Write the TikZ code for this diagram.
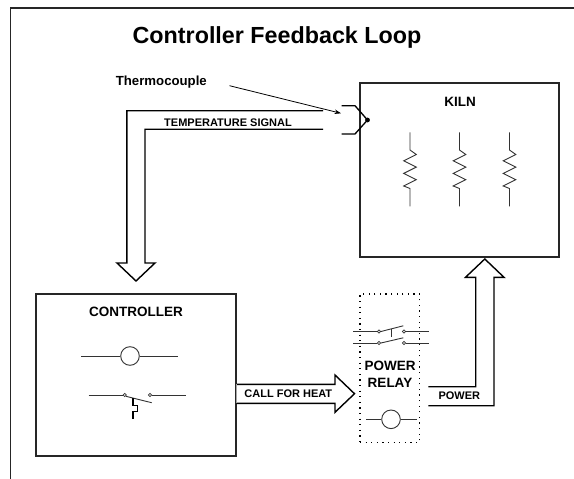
\documentclass[tikz,border=0pt]{standalone}
\usepackage{fontspec}
\setmainfont{Liberation Sans}
\usetikzlibrary{arrows.meta}
\tikzset{
  frameline/.style={line width=1.3bp, draw=black!85},
  boxstyle/.style={draw=black!85, line width=1.2bp, inner sep=0pt, fill=white},
  relaybox/.style={draw=black, line width=1.2bp, dash pattern=on 1.2bp off 4.4bp, inner sep=0pt},
  hollowarrow/.style={draw=black, line width=1.4bp, line join=miter},
  thinline/.style={draw=black!80, line width=0.9bp},
  heavyline/.style={draw=black, line width=1.6bp},
  lbl/.style={font=\bfseries\fontsize{11bp}{13bp}\selectfont, inner sep=0pt},
  blbl/.style={font=\bfseries\fontsize{13.5bp}{17.3bp}\selectfont, inner sep=0pt, align=center},
  contact/.style={circle, draw=black!80, line width=0.7bp, fill=white, inner sep=0pt, minimum size=3.2bp},
  coil/.style={circle, draw=black!80, line width=0.9bp, fill=white, inner sep=0pt, minimum size=18.6bp},
}
\begin{document}
\begin{tikzpicture}[x=1bp, y=-1bp]
\useasboundingbox (0,0) rectangle (574,479);
% outer frame (cut at right and bottom)
\draw[frameline] (10.5,479) -- (10.5,8) -- (574,8);
% title
\node[font=\bfseries\fontsize{23.3bp}{27bp}\selectfont, inner sep=0pt] (title) at (277,37) {Controller Feedback Loop};

% kiln
\node[boxstyle, minimum width=199bp, minimum height=174bp] (kiln) at (459.5,170) {};
\node[blbl] (kilnlbl) at (460,101.5) {KILN};
\foreach \xx/\nm in {410/ra,459.5/rb,509.5/rc}{
  \draw[thinline] (\xx,132.5) -- (\xx,150) -- (\xx+6.3,154.5) -- (\xx-6.3,160.8) -- (\xx+6.3,167.1) -- (\xx-6.3,173.4) -- (\xx+6.3,179.7) -- (\xx-6.3,186) -- (\xx,188.5) -- (\xx,206.5);
}

% thermocouple symbol
\coordinate (tcdot) at (367.5,120);
\draw[line width=1.3bp] (341.5,105.7) -- (355,105.7) -- (tcdot) -- (355,134) -- (341.5,134);
\fill (tcdot) circle (2.4bp);

% thermocouple label and leader
\node[font=\bfseries\fontsize{13.2bp}{15bp}\selectfont, inner sep=0pt, anchor=east] (tclbl) at (207,82) {Thermocouple};
\coordinate (tctip) at (341,113.3);
\draw[line width=0.8bp, -{Stealth[length=6.5bp,width=4.5bp]}] (229.5,85.7) -- (tctip);

% temperature signal hollow arrow
\draw[hollowarrow] (323,110.8) -- (126.8,110.8) -- (126.8,263) -- (117,263) -- (136,281) -- (155,263) -- (145,263) -- (145,129.3) -- (323,129.3);
\node[lbl] (templbl) at (228,122.5) {TEMPERATURE SIGNAL};

% controller
\node[boxstyle, minimum width=200bp, minimum height=162bp] (ctrl) at (136,375) {};
\node[blbl] (ctrllbl) at (136,312.3) {CONTROLLER};
\node[coil] (ccoil) at (130,356) {};
\draw[thinline] (81.3,356) -- (ccoil.west);
\draw[thinline] (ccoil.east) -- (178.3,356);
% controller switch
\node[contact] (cc1) at (124.8,395) {};
\node[contact] (cc2) at (150,395) {};
\draw[thinline] (88.7,395) -- (cc1.west);
\draw[thinline] (cc2.east) -- (186,395);
\draw[thinline] (cc1.south east) -- (151.7,402.7);
\draw[heavyline, line cap=butt] (132.8,398) -- (132.8,405.5) -- (137.3,405.5) -- (137.3,411.5) -- (132.8,411.5) -- (132.8,418.5);

% call for heat arrow
\draw[hollowarrow] (236.5,384.3) -- (335,384.3) -- (335,375) -- (354.5,393.7) -- (335,412.3) -- (335,403.3) -- (236.5,403.3);
\draw[black!35, line width=0.8bp] (236.5,384.3) -- (236.5,403.3);
\node[lbl] (calllbl) at (288.3,393.5) {CALL FOR HEAT};

% power relay
\node[relaybox, minimum width=59.3bp, minimum height=148.7bp] (relay) at (389.7,368.3) {};
\node[blbl] (relaylbl) at (390,374.6) {POWER\\RELAY};
% relay contacts
\node[contact] (r1a) at (379,331.5) {};
\node[contact] (r1b) at (404,331.5) {};
\node[contact] (r2a) at (379,343) {};
\node[contact] (r2b) at (404,343) {};
\draw[thinline] (353.3,331.5) -- (r1a.west);
\draw[thinline] (r1b.east) -- (429,331.5);
\draw[thinline] (353.3,343) -- (r2a.west);
\draw[thinline] (r2b.east) -- (429,343);
\draw[thinline] (r1a.east) -- (403.3,325.8);
\draw[thinline] (r2a.east) -- (403.3,337.8);
\draw[thinline] (391,328.9) -- (391,337);
% relay coil
\node[coil] (rcoil) at (391,419.3) {};
\draw[thinline] (366,419.3) -- (rcoil.west);
\draw[thinline] (rcoil.east) -- (416.7,419.3);

% power arrow
\draw[hollowarrow] (428.3,386.7) -- (475.7,386.7) -- (475.7,277.3) -- (465.5,277.3) -- (484.8,259) -- (504,277.3) -- (494,277.3) -- (494,405.7) -- (428.3,405.7);
\node[lbl] (powerlbl) at (459.3,395.7) {POWER};
\end{tikzpicture}
\end{document}
